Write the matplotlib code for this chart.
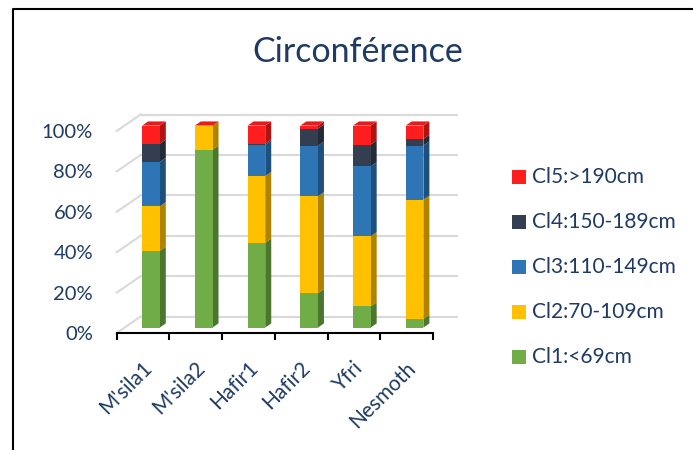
import matplotlib
matplotlib.use("Agg")
import matplotlib.pyplot as plt
import matplotlib.transforms as mtransforms
from matplotlib.lines import Line2D
from matplotlib.patches import Rectangle
import numpy as np

# Share of trees per circumference class (%), one list per class
sites = ["M'sila1", "M'sila2", "Hafir1", "Hafir2", "Yfri", "Nesmoth"]
cl1 = [38.0, 88.0, 42.0, 17.0, 10.5, 4.3]
cl2 = [22.0, 11.7, 33.0, 48.0, 34.7, 59.0]
cl3 = [22.0, 0.0, 15.4, 25.0, 34.6, 26.8]
cl4 = [9.0, 0.0, 0.6, 8.5, 10.8, 3.3]
cl5 = [9.0, 0.3, 9.0, 1.5, 9.4, 6.6]
class_labels = ["Cl1:<69cm", "Cl2:70-109cm", "Cl3:110-149cm", "Cl4:150-189cm", "Cl5:>190cm"]
class_colors = ["#70AD47", "#FFC000", "#2E75B6", "#333F50", "#FF1E1E"]
ticks_pct = [0, 20, 40, 60, 80, 100]

TEXT = "#1F3A63"
GRID = "#D9D9D9"
FONT = "Lato"

W, H = 693, 450
fig = plt.figure(figsize=(W / 100, H / 100), dpi=100)

# axes box = front plane of the pseudo-3D floor/wall
x0, x1, y0, y1 = 116.7, 433.0, 333.0, 131.0
ax = fig.add_axes([x0 / W, 1 - y0 / H, (x1 - x0) / W, (y0 - y1) / H])
ax.set_xlim(-0.5, len(sites) - 0.5)
ax.set_ylim(0, 100)
ax.patch.set_visible(False)

# depth vector of the 3D box, in data units
ddx = 24 / ((x1 - x0) / len(sites))
ddy = 16.5 / ((y0 - y1) / 100)

def shade(c, f):
    rgb = np.array(matplotlib.colors.to_rgb(c))
    return tuple(rgb * f)

# back wall gridlines and the left side wall diagonals
for v in ticks_pct:
    ax.plot([-0.5 + ddx, len(sites) - 0.5 + ddx], [v + ddy, v + ddy],
            color=GRID, lw=1.5, clip_on=False, zorder=1)
    ax.plot([-0.5, -0.5 + ddx], [v, v + ddy], color=GRID, lw=1.5,
            clip_on=False, zorder=1)

# stacked 3D-looking bars
series = [cl1, cl2, cl3, cl4, cl5]
bw = 0.335
df, db = 0.33, 0.58
xs = np.arange(len(sites))
bottoms = np.zeros(len(sites))
for vals, col in zip(series, class_colors):
    vals = np.array(vals)
    xf = xs + df * ddx
    ax.bar(xf, vals, bottom=bottoms + df * ddy, width=bw, color=col,
           linewidth=0, zorder=3, clip_on=False)
    for i in range(len(sites)):
        if vals[i] <= 0:
            continue
        xr_f = xf[i] + bw / 2
        xr_b = xr_f + (db - df) * ddx
        yb_f = bottoms[i] + df * ddy
        yt_f = yb_f + vals[i]
        off = (db - df) * ddy
        ax.fill([xr_f, xr_b, xr_b, xr_f], [yb_f, yb_f + off, yt_f + off, yt_f],
                color=shade(col, 0.68), lw=0, zorder=2.5, clip_on=False)
    bottoms = bottoms + vals

# top faces of the topmost segment
for i in range(len(sites)):
    top_col = None
    for vals, col in zip(series, class_colors):
        if vals[i] > 0:
            top_col = col
    xl_f = xs[i] + df * ddx - bw / 2
    xr_f = xl_f + bw
    sx = (db - df) * ddx
    sy = (db - df) * ddy
    yt = bottoms[i] + df * ddy
    ax.fill([xl_f, xr_f, xr_f + sx, xl_f + sx], [yt, yt, yt + sy, yt + sy],
            color=shade(top_col, 0.9), lw=0, zorder=3.5, clip_on=False)

# axes styling
for s in ["top", "right", "left"]:
    ax.spines[s].set_visible(False)
ax.spines["bottom"].set_color("black")
ax.spines["bottom"].set_linewidth(1.5)
ax.spines["bottom"].set_zorder(4)

ax.set_yticks(ticks_pct)
ax.set_yticklabels([f"{v}%" for v in ticks_pct], fontsize=14.5, color=TEXT,
                   family=FONT)
ax.tick_params(axis="y", length=0, pad=17)

ax.set_xticks(xs)
ax.set_xticklabels(sites, rotation=45, ha="right", va="center",
                   rotation_mode="anchor", fontsize=15, color=TEXT, family=FONT)
ax.tick_params(axis="x", which="major", length=0, pad=23)
ax.set_xticks(np.arange(len(sites) + 1) - 0.5, minor=True)
ax.tick_params(axis="x", which="minor", length=5, width=1.5, color="black",
               direction="out")
shift = mtransforms.ScaledTranslation(6 / 100, 0, fig.dpi_scale_trans)
for lab in ax.get_xticklabels():
    lab.set_transform(lab.get_transform() + shift)

# title
fig.text(358 / W, 1 - 52 / H, "Circonférence", ha="center", va="center",
         fontsize=24.5, color=TEXT, family=FONT)

# legend, top entry first
leg_y = [177, 222, 267, 312, 357]
for lab, col, yc in zip(class_labels[::-1], class_colors[::-1], leg_y):
    fig.add_artist(Rectangle((512 / W, 1 - (yc + 7) / H), 14 / W, 14 / H,
                             transform=fig.transFigure, color=col, lw=0))
    fig.text(532 / W, 1 - yc / H, lab, ha="left", va="center",
             fontsize=15, color=TEXT, family=FONT)

# chart area frame (left and top edges)
fig.add_artist(Line2D([13 / W, 13 / W, 1.0], [0.0, 1 - 9 / H, 1 - 9 / H],
                      transform=fig.transFigure, color="black", lw=1.5))

fig.savefig("out.png", dpi=100)
